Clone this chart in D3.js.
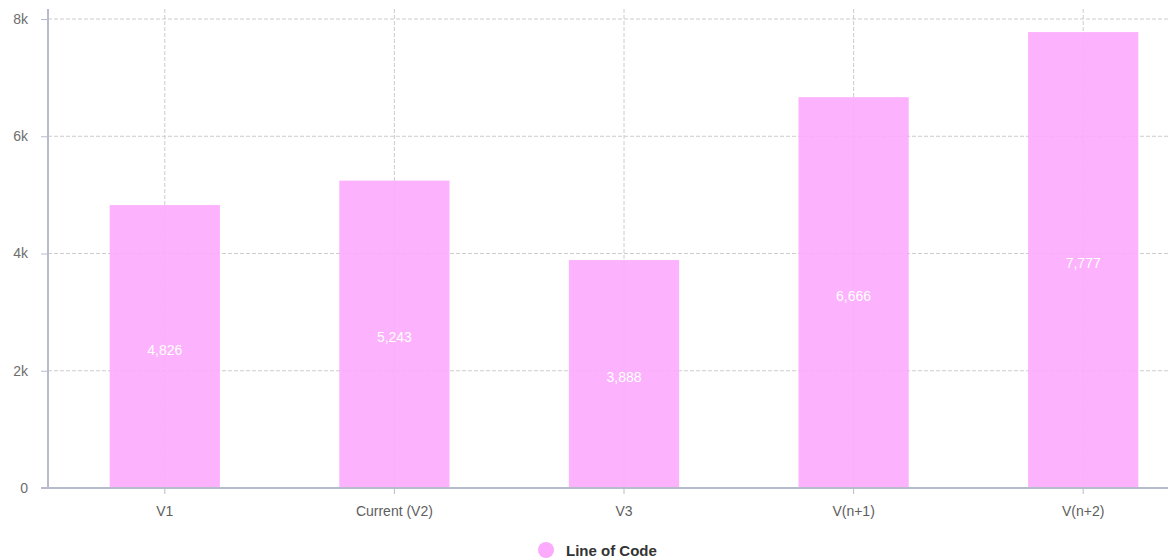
<!DOCTYPE html>
<html><head><meta charset="utf-8">
<script src="https://cdn.jsdelivr.net/npm/d3@7/dist/d3.min.js"></script>
<style>body{margin:0;background:#fff;overflow:hidden}svg{display:block;font-family:"Liberation Sans",Arial,sans-serif}</style>
</head><body>
<svg id="c" width="1168" height="560"></svg>
<script>
const categories = ["V1", "Current (V2)", "V3", "V(n+1)", "V(n+2)"];
const values = [4826, 5243, 3888, 6666, 7777];
const yTicks = [0, 2000, 4000, 6000, 8000];
const yTickLabels = ["0", "2k", "4k", "6k", "8k"];
const seriesName = "Line of Code";

(function () {
const svg = d3.select("#c");
const pLeft = 48, pTop = 19, pBottom = 488;
const x = d3.scaleBand().domain(categories).range([50, 1198]).paddingInner(0.52).paddingOuter(0.26);
const y = d3.scaleLinear().domain([0, 8000]).range([pBottom, pTop]);
const barColor = "#fcaafc";

// grid
const g = svg.append("g");
g.selectAll(".hg").data(yTicks).join("line")
  .attr("x1", pLeft).attr("x2", 1168).attr("y1", d => y(d)).attr("y2", d => y(d))
  .attr("stroke", "#cccccc").attr("stroke-dasharray", "4,2").attr("stroke-width", 1);
g.selectAll(".vg").data(categories).join("line")
  .attr("x1", d => x(d) + x.bandwidth() / 2).attr("x2", d => x(d) + x.bandwidth() / 2)
  .attr("y1", 9).attr("y2", pBottom)
  .attr("stroke", "#cccccc").attr("stroke-dasharray", "4,2").attr("stroke-width", 1);

// bars
svg.selectAll(".bar").data(values).join("rect")
  .attr("x", (d, i) => x(categories[i])).attr("width", x.bandwidth())
  .attr("y", d => y(d)).attr("height", d => pBottom - y(d))
  .attr("fill", barColor).attr("fill-opacity", 0.9);

svg.selectAll(".lbl").data(values).join("text")
  .attr("x", (d, i) => x(categories[i]) + x.bandwidth() / 2)
  .attr("y", d => (y(d) + pBottom) / 2 + 8)
  .attr("text-anchor", "middle").attr("fill", "#fff").attr("font-size", 14)
  .text(d => d3.format(",")(d));

// y axis
const ya = svg.append("g").attr("transform", `translate(${pLeft},0)`)
  .call(d3.axisLeft(y).tickValues(yTicks).tickFormat((d, i) => yTickLabels[i]).tickSize(7).tickPadding(13));
ya.select(".domain").attr("d", `M0,9V${pBottom}`).attr("stroke", "#b6bccb").attr("stroke-width", 2);
ya.selectAll(".tick line").attr("stroke", "#b6bccb");
ya.selectAll(".tick text").attr("fill", "#6e6e6e").attr("font-size", 14).attr("font-family", "Liberation Sans, Arial, sans-serif");

// x axis
const xa = svg.append("g").attr("transform", `translate(0,${pBottom})`)
  .call(d3.axisBottom(x).tickSize(6).tickPadding(12));
xa.select(".domain").attr("d", `M41,0H1168`).attr("stroke", "#b6bccb").attr("stroke-width", 2);
xa.selectAll(".tick line").attr("stroke", "#b6bccb");
xa.selectAll(".tick text").attr("fill", "#5e5e5e").attr("font-size", 14).attr("font-family", "Liberation Sans, Arial, sans-serif");

// legend
const lg = svg.append("g");
lg.append("circle").attr("cx", 546).attr("cy", 550).attr("r", 8).attr("fill", barColor);
lg.append("text").attr("x", 566).attr("y", 556).attr("font-size", 15).attr("font-weight", "bold")
  .attr("fill", "#333").text(seriesName);
})();
</script>
</body></html>
